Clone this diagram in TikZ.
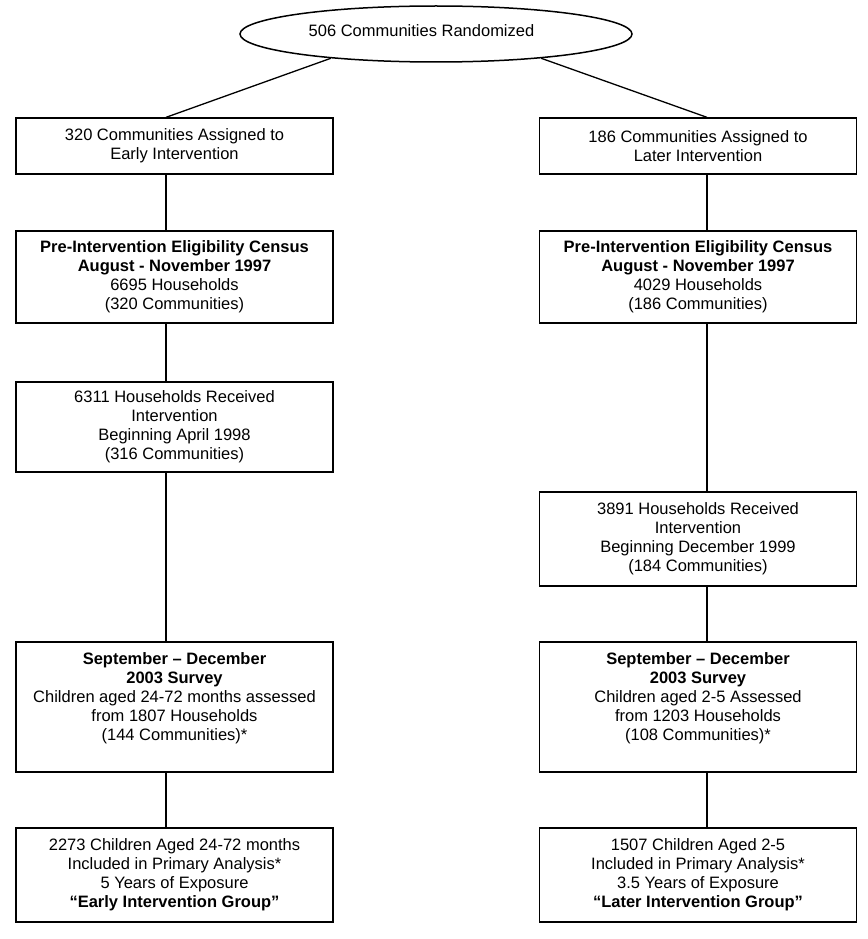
\documentclass[tikz,border=0pt]{standalone}
\usepackage{fontspec}
\setmainfont{Liberation Sans}
\usetikzlibrary{shapes.geometric}
\begin{document}
\begin{tikzpicture}[x=1pt,y=-1pt,
  every node/.style={font=\fontsize{16.5}{19}\selectfont, align=center, inner sep=0pt},
  box/.style={draw, line width=1.3pt, minimum width=317pt},
  conn/.style={line width=1.3pt},
  txt/.style={}]
\useasboundingbox (0,0) rectangle (867,939);
\coordinate (xl) at (166,0);
\coordinate (xr) at (707,0);
% ellipse
\node[draw, ellipse, line width=1.5pt, minimum width=392pt, minimum height=56pt] (e) at (436,34) {};
\node[txt] (et) at (421.5,31) {506 Communities Randomized};
% left column
\node[box, minimum height=56pt] (l1) at (174.5,146) {320 Communities Assigned to\\Early Intervention};
\node[box, minimum height=92pt] (l2) at (174.5,277) {\textbf{Pre-Intervention Eligibility Census}\\\textbf{August - November 1997}\\6695 Households\\(320 Communities)};
\node[box, minimum height=90pt] (l3) at (174.5,427) {6311 Households Received\\Intervention\\Beginning April 1998\\(316 Communities)};
\node[box, minimum height=130pt] (l4) at (174.5,707) {};
\node[txt] (l4t) at (174.5,698.5) {\textbf{September – December}\\\textbf{2003 Survey}\\Children aged 24-72 months assessed\\from 1807 Households\\(144 Communities)*};
\node[box, minimum height=94pt] (l5) at (174.5,875) {2273 Children Aged 24-72 months\\Included in Primary Analysis*\\5 Years of Exposure\\\textbf{“Early Intervention Group”}};
% right column
\node[box, minimum height=56pt] (r1) at (698,146) {186 Communities Assigned to\\Later Intervention};
\node[box, minimum height=92pt] (r2) at (698,277) {\textbf{Pre-Intervention Eligibility Census}\\\textbf{August - November 1997}\\4029 Households\\(186 Communities)};
\node[box, minimum height=94pt] (r3) at (698,539) {3891 Households Received\\Intervention\\Beginning December 1999\\(184 Communities)};
\node[box, minimum height=130pt] (r4) at (698,707) {};
\node[txt] (r4t) at (698,698.5) {\textbf{September – December}\\\textbf{2003 Survey}\\Children aged 2-5 Assessed\\from 1203 Households\\(108 Communities)*};
\node[box, minimum height=94pt] (r5) at (698,875) {1507 Children Aged 2-5\\Included in Primary Analysis*\\3.5 Years of Exposure\\\textbf{“Later Intervention Group”}};
% connectors
\draw[conn] (e.193) -- (l1.north -| xl);
\draw[conn] (e.-13) -- (r1.north -| xr);
\draw[conn] (l1.south -| xl) -- (l2.north -| xl);
\draw[conn] (l2.south -| xl) -- (l3.north -| xl);
\draw[conn] (l3.south -| xl) -- (l4.north -| xl);
\draw[conn] (l4.south -| xl) -- (l5.north -| xl);
\draw[conn] (r1.south -| xr) -- (r2.north -| xr);
\draw[conn] (r2.south -| xr) -- (r3.north -| xr);
\draw[conn] (r3.south -| xr) -- (r4.north -| xr);
\draw[conn] (r4.south -| xr) -- (r5.north -| xr);
\end{tikzpicture}
\end{document}
